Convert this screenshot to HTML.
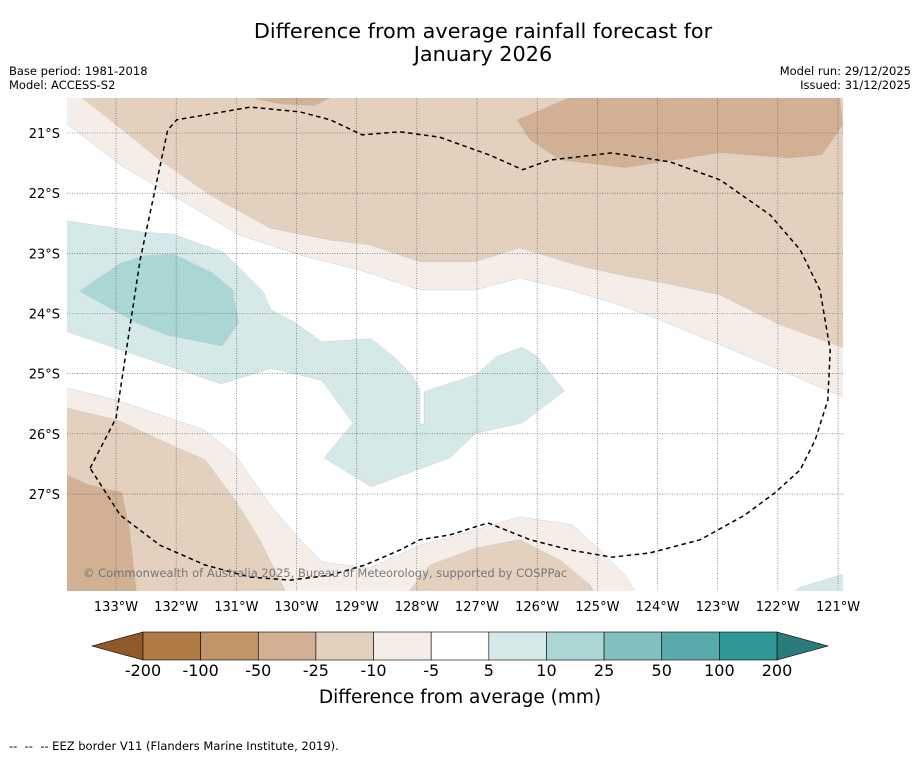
<!DOCTYPE html>
<html><head><meta charset="utf-8"><style>
body{margin:0;background:#fff;}
svg{display:block;font-family:"DejaVu Sans","Liberation Sans",sans-serif;}
</style></head><body>
<svg id="chart" width="919" height="758" viewBox="0 0 919 758" xmlns="http://www.w3.org/2000/svg">
<rect width="919" height="758" fill="#fff"/>
<text x="483" y="38" font-size="20.8" text-anchor="middle" fill="#000">Difference from average rainfall forecast for</text>
<text x="483" y="61" font-size="20.8" text-anchor="middle" fill="#000">January 2026</text>
<text x="9" y="75" font-size="11.5">Base period: 1981-2018</text>
<text x="9" y="89" font-size="11.5">Model: ACCESS-S2</text>
<text x="911" y="75" font-size="11.5" text-anchor="end">Model run: 29/12/2025</text>
<text x="911" y="89" font-size="11.5" text-anchor="end">Issued: 31/12/2025</text>
<defs><clipPath id="mapclip"><rect x="67" y="98" width="776" height="493"/></clipPath></defs>
<g id="map" clip-path="url(#mapclip)"></g>
<g id="axes"></g>
<g id="cbar"></g>
<text x="460" y="703" font-size="18.5" text-anchor="middle">Difference from average (mm)</text>
<text x="9" y="750" font-size="11.5" xml:space="preserve">--  --  -- EEZ border V11 (Flanders Marine Institute, 2019).</text>
</svg>
<script>
const lonTicks=[133,132,131,130,129,128,127,126,125,124,123,122,121];
const latTicks=[21,22,23,24,25,26,27];
const levelLabels=["-200","-100","-50","-25","-10","-5","5","10","25","50","100","200"];
const levelColors=["#b07a43","#c1956a","#d2b093","#e3d0bf","#f4ede8","#ffffff","#d5e9e8","#abd6d6","#82c0bf","#59abab","#309796"];
const lightTop=[[133.9,20.78],[132.93,21.53],[131.94,22.11],[130.94,22.70],[129.94,23.03],[128.94,23.28],[127.95,23.61],[127.03,23.61],[126.29,23.41],[125.45,23.61],[124.62,23.86],[123.96,24.11],[122.96,24.52],[121.96,24.94],[120.8,25.44],[120.8,20.3],[133.9,20.3]];
const tanTop=[[133.56,20.42],[133.10,20.78],[132.27,21.45],[131.44,22.03],[130.44,22.58],[129.44,22.78],[128.78,22.86],[127.95,23.14],[127.03,23.14],[126.29,22.91],[125.29,23.21],[124.62,23.36],[123.96,23.48],[122.96,23.69],[121.96,24.19],[120.8,24.61],[120.8,20.3],[133.6,20.3]];
const darkTop1=[[130.8,20.40],[129.4,20.40],[129.7,20.55],[130.3,20.52]];
const darkTop2=[[125.45,20.40],[120.97,20.40],[120.92,20.87],[121.27,21.37],[121.80,21.42],[122.96,21.33],[124.54,21.58],[125.62,21.45],[126.12,21.12],[126.34,20.78],[125.95,20.62]];
const lightBL=[[133.9,25.22],[132.98,25.44],[132.02,25.77],[131.52,25.94],[131.02,26.35],[130.44,27.18],[129.94,27.76],[129.58,28.13],[128.78,28.23],[127.95,27.85],[127.03,27.60],[126.29,27.38],[125.42,27.51],[124.96,27.93],[124.54,28.35],[124.32,28.7],[133.9,28.7]];
const tanBL=[[133.9,25.55],[132.98,25.77],[132.27,26.10],[131.52,26.43],[131.02,27.10],[130.61,27.76],[130.36,28.26],[130.14,28.7],[133.9,28.7]];
const tanBC=[[128.20,28.7],[127.78,28.18],[127.03,27.90],[126.29,27.76],[125.62,28.10],[125.12,28.51],[125.01,28.7]];
const darkBL=[[133.9,26.65],[133.43,26.85],[132.90,26.97],[132.77,27.60],[132.65,28.7],[133.9,28.7]];
const blueBR=[[121.85,28.7],[121.63,28.55],[120.8,28.3],[120.8,28.7]];
const blueLight=[[133.9,24.27],[131.25,25.17],[130.42,24.91],[129.58,25.11],[129.06,25.82],[129.54,26.40],[128.76,26.88],[127.45,26.40],[127.02,25.99],[126.25,25.82],[125.55,25.29],[126.00,24.72],[126.25,24.56],[126.68,24.72],[127.02,25.02],[127.88,25.30],[127.88,25.84],[127.95,25.84],[127.95,25.27],[128.08,25.02],[128.38,24.72],[128.76,24.42],[129.58,24.47],[130.01,24.16],[130.42,23.94],[130.56,23.63],[131.22,22.98],[132.05,22.68],[132.53,22.65],[133.9,22.45]];
const blueMid=[[133.61,23.63],[132.92,23.16],[132.53,23.04],[132.05,23.01],[131.39,23.33],[131.06,23.61],[130.96,24.16],[131.24,24.54],[132.15,24.36],[132.65,24.16]];
const eez=[[133.43,26.57],[133,25.74],[132.60,23.11],[132.14,20.95],[131.99,20.78],[130.77,20.57],[129.94,20.65],[129.44,20.78],[128.91,21.03],[128.28,20.98],[127.62,21.07],[126.78,21.37],[126.24,21.61],[125.79,21.45],[124.76,21.33],[123.79,21.48],[122.96,21.78],[122.13,22.36],[121.63,22.94],[121.30,23.61],[121.13,24.61],[121.17,25.44],[121.38,26.10],[121.63,26.60],[122.05,26.98],[122.55,27.35],[123.29,27.76],[124.13,27.98],[124.76,28.05],[125.45,27.93],[126.12,27.76],[126.82,27.48],[127.45,27.68],[127.95,27.76],[128.28,27.93],[128.86,28.18],[129.44,28.35],[130.11,28.43],[130.77,28.38],[131.52,28.18],[132.27,27.85],[132.93,27.35],[133.43,26.57]];

const NS="http://www.w3.org/2000/svg";
const PX=60.17;
function xS(lonW){return 116+(133-lonW)*PX;}
function yS(latS){return 133+(latS-21)*PX;}
function pts(a){return a.map(p=>xS(p[0]).toFixed(1)+","+yS(p[1]).toFixed(1)).join(" ");}
function mk(tag,attrs,parent){const e=document.createElementNS(NS,tag);for(const k in attrs)e.setAttribute(k,attrs[k]);parent.appendChild(e);return e;}
const map=document.getElementById("map");
const axes=document.getElementById("axes");
const cbar=document.getElementById("cbar");
function poly(arr,fill,name){
  const e=mk("polygon",{points:pts(arr),fill:fill,stroke:"#c8c8c8","stroke-width":"0.4"},map);
  
  
}
poly(lightTop,levelColors[4],"contour-minus10-top");
poly(tanTop,levelColors[3],"contour-minus25-top");
poly(darkTop1,levelColors[2],"contour-minus50-top-small");
poly(darkTop2,levelColors[2],"contour-minus50-top");
poly(lightBL,levelColors[4],"contour-minus10-bottom");
poly(tanBL,levelColors[3],"contour-minus25-bottom-left");
poly(tanBC,levelColors[3],"contour-minus25-bottom-center");
poly(darkBL,levelColors[2],"contour-minus50-bottom-left");
poly(blueBR,levelColors[6],"contour-plus5-bottom-right");
poly(blueLight,levelColors[6],"contour-plus5-center");
poly(blueMid,levelColors[7],"contour-plus10-west");
lonTicks.forEach(l=>{
  const g=mk("line",{x1:xS(l),x2:xS(l),y1:98,y2:591,stroke:"#555","stroke-width":"0.6","stroke-dasharray":"1,1.5"},map);
  
  
  const t=mk("text",{x:xS(l),y:611,"font-size":"13","text-anchor":"middle"},axes);
  t.textContent=l+"°W";
  
  
});
latTicks.forEach(l=>{
  const g=mk("line",{x1:67,x2:843,y1:yS(l),y2:yS(l),stroke:"#555","stroke-width":"0.6","stroke-dasharray":"1,1.5"},map);
  
  
  const t=mk("text",{x:60,y:yS(l)+5,"font-size":"13","text-anchor":"end"},axes);
  t.textContent=l+"°S";
  
  
});
const ez=mk("polyline",{points:pts(eez),fill:"none",stroke:"#000","stroke-width":"1.5","stroke-dasharray":"4.5,3.5"},map);


const cp=mk("text",{x:83,y:577,"font-size":"11.5",fill:"#666","fill-opacity":"0.85"},map);
cp.textContent="© Commonwealth of Australia 2025, Bureau of Meteorology, supported by COSPPac";


const cx0=143,cx1=777,cy0=632,cy1=660,n=levelColors.length,w=(cx1-cx0)/n;
const la=mk("polygon",{points:`${cx0},${cy0} ${cx0},${cy1} 92,${(cy0+cy1)/2}`,fill:"#8f5a28",stroke:"#000","stroke-width":"0.6"},cbar);


const ra=mk("polygon",{points:`${cx1},${cy0} ${cx1},${cy1} 828,${(cy0+cy1)/2}`,fill:"#2a7b7a",stroke:"#000","stroke-width":"0.6"},cbar);


levelColors.forEach((c,i)=>{
  const r=mk("rect",{x:cx0+i*w,y:cy0,width:w,height:cy1-cy0,fill:c,stroke:"#000","stroke-width":"0.6"},cbar);
  
  
});
levelLabels.forEach((s,i)=>{
  const t=mk("text",{x:cx0+i*w,y:676,"font-size":"16","text-anchor":"middle"},cbar);
  t.textContent=s;
  
  
});
</script>
</body></html>
